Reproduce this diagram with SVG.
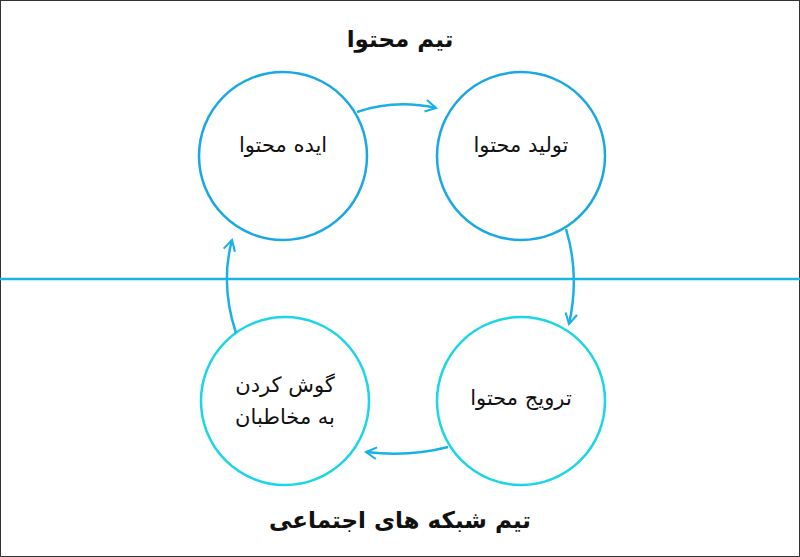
<svg xmlns="http://www.w3.org/2000/svg" width="800" height="557" viewBox="0 0 800 557">
<defs>
<style>
.t{font-family:"DejaVu Sans","Noto Sans",sans-serif;fill:#111;text-anchor:middle;direction:rtl}
.title{font-size:23px;font-weight:bold}
.lbl{font-size:21px}
.cb{fill:none;stroke:#1aa8e4;stroke-width:2.5}
.cc{fill:none;stroke:#1cd6e6;stroke-width:2.5}
.ar{fill:none;stroke:#1ab0e6;stroke-width:2.5;marker-end:url(#h)}
</style>
<marker id="h" viewBox="0 0 12 12" refX="10" refY="6" markerWidth="14" markerHeight="14" orient="auto" markerUnits="userSpaceOnUse">
<path d="M1 1 L10 6 L1 11" fill="none" stroke="#1ab0e6" stroke-width="1.8"/>
</marker>
</defs>
<rect x="0.5" y="0.5" width="799" height="556" fill="#fff" stroke="#333" stroke-width="1"/>
<line x1="0" y1="279" x2="800" y2="279" stroke="#1ab4e8" stroke-width="2.5"/>
<text class="t title" x="400" y="47">تیم محتوا</text>
<text class="t title" x="400" y="528">تیم شبکه های اجتماعی</text>
<g id="n1"><circle class="cb" cx="283" cy="156" r="84"/><text class="t lbl" x="283" y="152">ایده محتوا</text></g>
<g id="n2"><circle class="cb" cx="521" cy="156" r="84"/><text class="t lbl" x="521" y="152">تولید محتوا</text></g>
<g id="n3"><circle class="cc" cx="521" cy="401" r="84"/><text class="t lbl" x="521" y="405">ترویج محتوا</text></g>
<g id="n4"><circle class="cc" cx="285" cy="401" r="84"/><text class="t lbl" x="285" y="392">گوش کردن</text><text class="t lbl" x="285" y="424">به مخاطبان</text></g>
<g id="connectors">
<path class="ar" d="M357 112 Q395 99 436 108"/>
<path class="ar" d="M566 229 Q580 275 569 324"/>
<path class="ar" d="M448 447 Q410 457 366 452"/>
<path class="ar" d="M236 333 Q220 285 232 240"/>
</g>
</svg>
